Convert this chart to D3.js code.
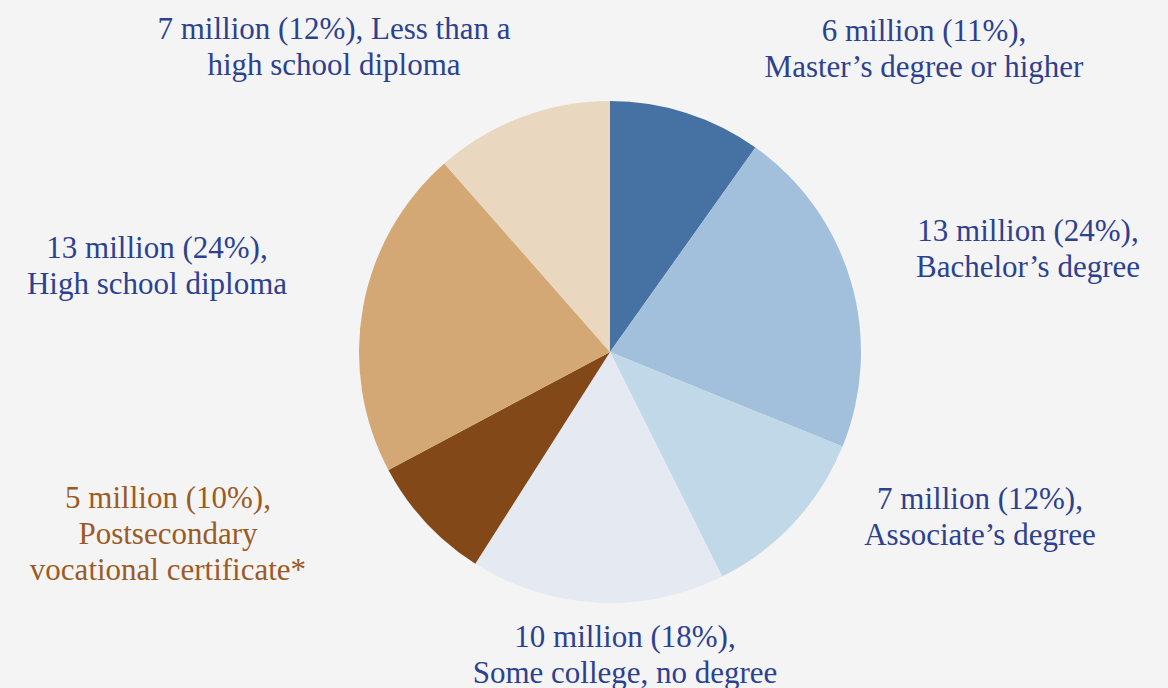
<!DOCTYPE html>
<html>
<head>
<meta charset="utf-8">
<script src="https://cdn.jsdelivr.net/npm/d3@7"></script>
<style>
  html, body { margin: 0; padding: 0; background: #f4f4f4; }
  svg { display: block; }
</style>
</head>
<body>
<div id="chart"></div>
<script>
// data, clockwise from 12 o'clock
const categories = [
  "Master’s degree or higher",
  "Bachelor’s degree",
  "Associate’s degree",
  "Some college, no degree",
  "Postsecondary vocational certificate*",
  "High school diploma",
  "Less than a high school diploma"
];
const millions = [6, 13, 7, 10, 5, 13, 7];
const percents = [11, 24, 12, 18, 10, 24, 12];
const colors = ["#4672a3", "#a2bfdb", "#c0d8e8", "#e5eaf2", "#824817", "#d4a874", "#e9d7bf"];

// label text lines (the first line holds the numbers)
const labelLines = [
  (m, p) => [`${m} million (${p}%),`, "Master’s degree or higher"],
  (m, p) => [`${m} million (${p}%),`, "Bachelor’s degree"],
  (m, p) => [`${m} million (${p}%),`, "Associate’s degree"],
  (m, p) => [`${m} million (${p}%),`, "Some college, no degree"],
  (m, p) => [`${m} million (${p}%),`, "Postsecondary", "vocational certificate*"],
  (m, p) => [`${m} million (${p}%),`, "High school diploma"],
  (m, p) => [`${m} million (${p}%), Less than a`, "high school diploma"]
];
// label anchor (center x, first line middle y)
const labelPos = [
  [924, 30], [1028, 230], [980, 498], [625, 636], [168, 497], [157, 247], [334, 28]
];
const labelColor = ["#2c4190", "#2c4190", "#2c4190", "#2c4190", "#9b5b26", "#2c4190", "#2c4190"];

const width = 1168, height = 688;
const cx = 610, cy = 352, radius = 251;

const svg = d3.select("#chart").append("svg")
  .attr("width", width)
  .attr("height", height);

svg.append("rect").attr("width", width).attr("height", height).attr("fill", "#f4f4f4");

const pie = d3.pie().sort(null).value(d => d)(millions);
const arc = d3.arc().innerRadius(0).outerRadius(radius);

const g = svg.append("g").attr("transform", `translate(${cx},${cy})`);

g.selectAll("path")
  .data(pie)
  .enter()
  .append("path")
  .attr("d", arc)
  .attr("fill", (d, i) => colors[i]);

const lineH = 36;
const labels = svg.selectAll("text.lbl")
  .data(categories)
  .enter()
  .append("text")
  .attr("class", "lbl")
  .attr("text-anchor", "middle")
  .attr("font-family", "'Liberation Serif', 'DejaVu Serif', serif")
  .attr("font-size", 31)
  .attr("fill", (d, i) => labelColor[i]);

labels.each(function (d, i) {
  const lines = labelLines[i](millions[i], percents[i]);
  d3.select(this).selectAll("tspan")
    .data(lines)
    .enter()
    .append("tspan")
    .attr("x", labelPos[i][0])
    .attr("y", (l, j) => labelPos[i][1] + j * lineH)
    .attr("dy", "0.35em")
    .text(l => l);
});
</script>
</body>
</html>
